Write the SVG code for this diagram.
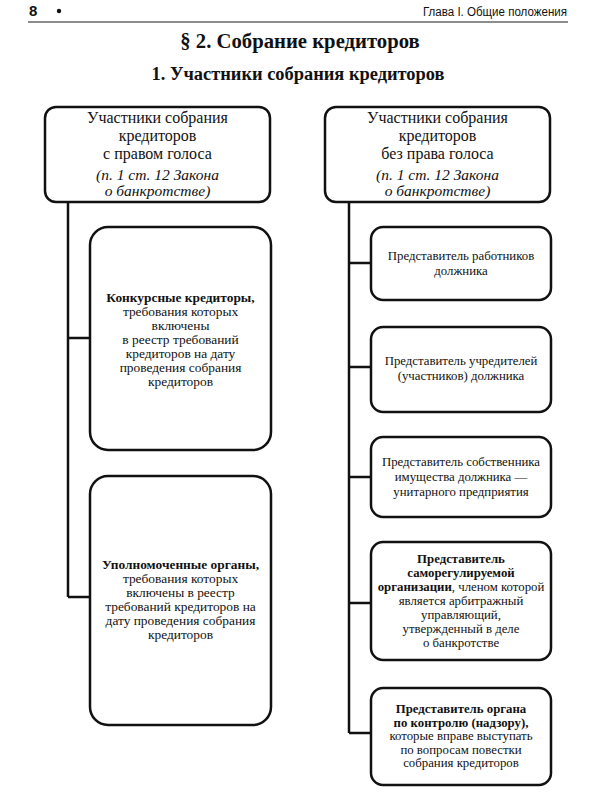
<svg xmlns="http://www.w3.org/2000/svg" width="600" height="800" viewBox="0 0 600 800">
<style>
.box{fill:#fff;stroke:#111;stroke-width:2.5}
.con{fill:none;stroke:#111;stroke-width:2.5}
.t{font-family:"Liberation Serif","Times New Roman",serif;fill:#111;text-anchor:middle}
.h{font-size:16px}
.hi{font-size:15.5px;font-style:italic}
.l{font-size:13.4px}
.r{font-size:12.8px}
.b{font-weight:bold}
</style>
<rect width="600" height="800" fill="#fff"/>
<g id="header">
<text x="29" y="16" font-family="Liberation Sans, Arial, sans-serif" font-weight="bold" font-size="15" fill="#111">8</text>
<circle cx="59" cy="11" r="2.2" fill="#111"/>
<text x="567" y="16" font-family="Liberation Sans, Arial, sans-serif" font-size="12.5" fill="#111" text-anchor="end" textLength="144" lengthAdjust="spacingAndGlyphs">Глава I. Общие положения</text>
<line x1="28" y1="22" x2="568" y2="22" stroke="#666" stroke-width="1.5"/>
</g>
<g id="titles">
<text class="t b" x="300" y="48" font-size="20.7">§ 2. Собрание кредиторов</text>
<text class="t b" x="298" y="80" font-size="18.4">1. Участники собрания кредиторов</text>
</g>
<g id="connectors">
<path class="con" d="M68 202 V597 M68 338 H90 M68 597 H90"/>
<path class="con" d="M349 202 V733 M349 263 H371 M349 367 H371 M349 477 H371 M349 603 H371 M349 733 H371"/>
</g>
<g id="left-head">
<rect class="box" x="45" y="107" width="225" height="95" rx="11"/>
<text class="t h" x="157.5" y="123">Участники собрания</text>
<text class="t h" x="157.5" y="141">кредиторов</text>
<text class="t h" x="157.5" y="159">с правом голоса</text>
<text class="t hi" x="157.5" y="180">(п. 1 ст. 12 Закона</text>
<text class="t hi" x="157.5" y="196">о банкротстве)</text>
</g>
<g id="right-head">
<rect class="box" x="325" y="107" width="225" height="95" rx="11"/>
<text class="t h" x="437.5" y="123">Участники собрания</text>
<text class="t h" x="437.5" y="141">кредиторов</text>
<text class="t h" x="437.5" y="159">без права голоса</text>
<text class="t hi" x="437.5" y="180">(п. 1 ст. 12 Закона</text>
<text class="t hi" x="437.5" y="196">о банкротстве)</text>
</g>
<g id="left-1">
<rect class="box" x="90" y="227" width="181" height="223" rx="18"/>
<text class="t l b" x="180.5" y="302">Конкурсные кредиторы,</text>
<text class="t l" x="180.5" y="316">требования которых</text>
<text class="t l" x="180.5" y="330">включены</text>
<text class="t l" x="180.5" y="344">в реестр требований</text>
<text class="t l" x="180.5" y="358">кредиторов на дату</text>
<text class="t l" x="180.5" y="372">проведения собрания</text>
<text class="t l" x="180.5" y="386">кредиторов</text>
</g>
<g id="left-2">
<rect class="box" x="90" y="476" width="181" height="249" rx="18"/>
<text class="t l b" x="180.5" y="569">Уполномоченные органы,</text>
<text class="t l" x="180.5" y="583">требования которых</text>
<text class="t l" x="180.5" y="597">включены в реестр</text>
<text class="t l" x="180.5" y="611">требований кредиторов на</text>
<text class="t l" x="180.5" y="625">дату проведения собрания</text>
<text class="t l" x="180.5" y="639">кредиторов</text>
</g>
<g id="right-1">
<rect class="box" x="371" y="227" width="180" height="73" rx="12"/>
<text class="t r" x="461" y="260">Представитель работников</text>
<text class="t r" x="461" y="275">должника</text>
</g>
<g id="right-2">
<rect class="box" x="371" y="327" width="180" height="85" rx="12"/>
<text class="t r" x="461" y="365">Представитель учредителей</text>
<text class="t r" x="461" y="380">(участников) должника</text>
</g>
<g id="right-3">
<rect class="box" x="371" y="437" width="180" height="80" rx="12"/>
<text class="t r" x="461" y="466">Представитель собственника</text>
<text class="t r" x="461" y="481">имущества должника —</text>
<text class="t r" x="461" y="496">унитарного предприятия</text>
</g>
<g id="right-4">
<rect class="box" x="371" y="542" width="180" height="118" rx="12"/>
<text class="t r b" x="461" y="563">Представитель</text>
<text class="t r b" x="461" y="577">саморегулируемой</text>
<text class="t r" x="461" y="591"><tspan font-weight="bold">организации</tspan>, членом которой</text>
<text class="t r" x="461" y="605">является арбитражный</text>
<text class="t r" x="461" y="619">управляющий,</text>
<text class="t r" x="461" y="633">утвержденный в деле</text>
<text class="t r" x="461" y="647">о банкротстве</text>
</g>
<g id="right-5">
<rect class="box" x="371" y="688" width="180" height="97" rx="12"/>
<text class="t r b" x="461" y="713">Представитель органа</text>
<text class="t r b" x="461" y="726.5">по контролю (надзору),</text>
<text class="t r" x="461" y="740">которые вправе выступать</text>
<text class="t r" x="461" y="753.5">по вопросам повестки</text>
<text class="t r" x="461" y="767">собрания кредиторов</text>
</g>
</svg>
